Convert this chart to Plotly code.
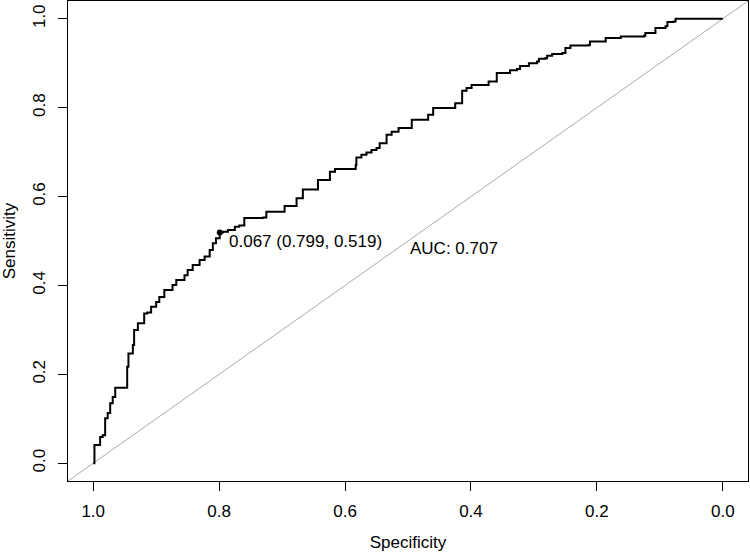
import plotly.graph_objects as go

# ROC curve vertices (specificity, sensitivity)
specificity = [1.000, 0.998, 0.990, 0.989, 0.985, 0.981, 0.977, 0.973, 0.969, 0.965,
               0.951, 0.946, 0.944, 0.937, 0.935, 0.929, 0.919, 0.914, 0.908, 0.900,
               0.895, 0.887, 0.874, 0.868, 0.855, 0.850, 0.842, 0.831, 0.823, 0.815,
               0.810, 0.805, 0.799, 0.794, 0.786, 0.775, 0.768, 0.760, 0.730, 0.725,
               0.699, 0.696, 0.680, 0.677, 0.667, 0.653, 0.643, 0.632, 0.624, 0.616,
               0.598, 0.583, 0.582, 0.574, 0.566, 0.558, 0.550, 0.545, 0.534, 0.526,
               0.515, 0.494, 0.494, 0.473, 0.468, 0.460, 0.430, 0.425, 0.414, 0.407,
               0.399, 0.375, 0.372, 0.361, 0.359, 0.340, 0.338, 0.327, 0.322, 0.308,
               0.295, 0.292, 0.282, 0.279, 0.271, 0.255, 0.250, 0.242, 0.213, 0.211,
               0.189, 0.186, 0.165, 0.162, 0.125, 0.123, 0.109, 0.107, 0.091, 0.088,
               0.078, 0.075, 0.000]
sensitivity = [0.000, 0.041, 0.041, 0.059, 0.063, 0.101, 0.113, 0.135, 0.149, 0.170,
               0.170, 0.217, 0.247, 0.266, 0.300, 0.315, 0.337, 0.339, 0.352, 0.363,
               0.374, 0.390, 0.401, 0.412, 0.423, 0.435, 0.446, 0.457, 0.465, 0.480,
               0.495, 0.506, 0.519, 0.521, 0.525, 0.532, 0.535, 0.552, 0.553, 0.566,
               0.566, 0.579, 0.579, 0.596, 0.616, 0.616, 0.637, 0.637, 0.656, 0.662,
               0.662, 0.671, 0.688, 0.694, 0.699, 0.705, 0.709, 0.720, 0.739, 0.746,
               0.754, 0.754, 0.773, 0.773, 0.784, 0.799, 0.799, 0.810, 0.838, 0.844,
               0.851, 0.851, 0.859, 0.859, 0.878, 0.878, 0.884, 0.887, 0.894, 0.900,
               0.904, 0.910, 0.911, 0.917, 0.921, 0.923, 0.934, 0.940, 0.941, 0.949,
               0.949, 0.957, 0.957, 0.960, 0.962, 0.968, 0.968, 0.979, 0.983, 0.993,
               0.994, 1.000, 1.000]

best_threshold = 0.067
best_spec = 0.799
best_sens = 0.519
auc_value = 0.707

tick_vals = [0.0, 0.2, 0.4, 0.6, 0.8, 1.0]
tick_text = ["0.0", "0.2", "0.4", "0.6", "0.8", "1.0"]

FONT = "Liberation Sans, Arial, sans-serif"
FS = 17

fig = go.Figure()

# identity line across the whole plotting region
fig.add_trace(go.Scatter(
    x=[1.04, -0.04], y=[-0.04, 1.04], mode="lines",
    line=dict(color="#A9A9A9", width=1), hoverinfo="skip", showlegend=False))

fig.add_trace(go.Scatter(
    x=specificity, y=sensitivity, mode="lines",
    line=dict(color="black", width=2, shape="hv"), showlegend=False))

fig.add_trace(go.Scatter(
    x=[best_spec], y=[best_sens], mode="markers",
    marker=dict(color="black", size=6), showlegend=False))

fig.add_annotation(
    x=best_spec - 0.012, y=best_sens - 0.02, xref="x", yref="y",
    text=f"{best_threshold:.3f} ({best_spec:.3f}, {best_sens:.3f})",
    showarrow=False, xanchor="left", yanchor="middle",
    font=dict(family=FONT, size=FS, color="black"))

fig.add_annotation(
    x=0.5, y=0.484, xref="x", yref="y",
    text=f"AUC: {auc_value:.3f}",
    showarrow=False, xanchor="left", yanchor="middle",
    font=dict(family=FONT, size=FS, color="black"))

axis_common = dict(
    showgrid=False, zeroline=False, showline=True, linecolor="black",
    linewidth=1, mirror=True, ticks="outside", ticklen=9, tickwidth=1,
    tickcolor="black", tickvals=tick_vals, ticktext=tick_text,
    tickfont=dict(family=FONT, size=FS, color="black"),
)

fig.update_layout(
    width=750, height=552,
    margin=dict(l=68, r=2, t=1, b=71),
    plot_bgcolor="white", paper_bgcolor="white",
    font=dict(family=FONT, size=FS, color="black"),
    xaxis=dict(range=[1.04, -0.04], title=dict(text="Specificity",
               font=dict(family=FONT, size=FS), standoff=15),
               ticklabelstandoff=6, **axis_common),
    yaxis=dict(range=[-0.04, 1.04], tickangle=-90,
               title=dict(text="Sensitivity", font=dict(family=FONT, size=FS),
                          standoff=12),
               ticklabelstandoff=6, **axis_common),
)

fig.write_html("out.html", config={"displayModeBar": False},
               post_script="document.body.style.margin='0';")
